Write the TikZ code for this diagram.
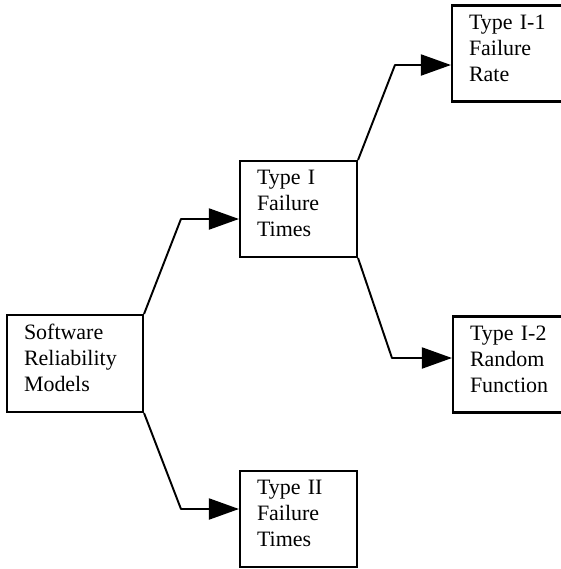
\documentclass[tikz,border=0pt]{standalone}
\usepackage{fontspec}
\setmainfont{Liberation Serif}
\usepackage{tikz}
\usetikzlibrary{arrows.meta}

\begin{document}
\begin{tikzpicture}[
  x=0.02cm, y=-0.02cm,
  box/.style={draw, line width=1.2pt, minimum height=1.92cm, inner xsep=0.34cm, align=left,
    font=\fontsize{12.5}{14.8}\selectfont, execute at end node={\endgraf\vspace*{0.22cm}}},
  link/.style={line width=1.1pt, line join=round, -{Triangle[length=0.6cm, width=0.42cm]}}
]
  \useasboundingbox (0,0) rectangle (561,569);

  % Root of the classification
  \node[box, text width=2.04cm, minimum height=1.94cm] (root) at (75,363.5) {Software\\Reliability\\Models};

  % Second level
  \node[box, text width=1.66cm] (typeI) at (298.5,209) {Type I\\Failure\\Times};
  \node[box, text width=1.66cm] (typeII) at (298.5,519) {Type II\\Failure\\Times};

  % Third level (cut at the right edge)
  \node[box, text width=1.66cm] (typeIa) at (510.5,53.5) {Type I-1\\Failure\\Rate};
  \node[box, text width=1.66cm] (typeIb) at (511.5,364.5) {Type I-2\\Random\\Function};

  % Connectors
  \draw[link] (root.north east) -- ([xshift=-1.16cm, yshift=-0.2cm]typeI.west) -- ([yshift=-0.2cm]typeI.west);
  \draw[link] (root.south east) -- ([xshift=-1.16cm, yshift=0.2cm]typeII.west) -- ([yshift=0.2cm]typeII.west);
  \draw[link] (typeI.north east) -- ([xshift=-1.12cm, yshift=-0.23cm]typeIa.west) -- ([yshift=-0.23cm]typeIa.west);
  \draw[link] (typeI.south east) -- ([xshift=-1.2cm, yshift=0.13cm]typeIb.west) -- ([yshift=0.13cm]typeIb.west);
\end{tikzpicture}
\end{document}
